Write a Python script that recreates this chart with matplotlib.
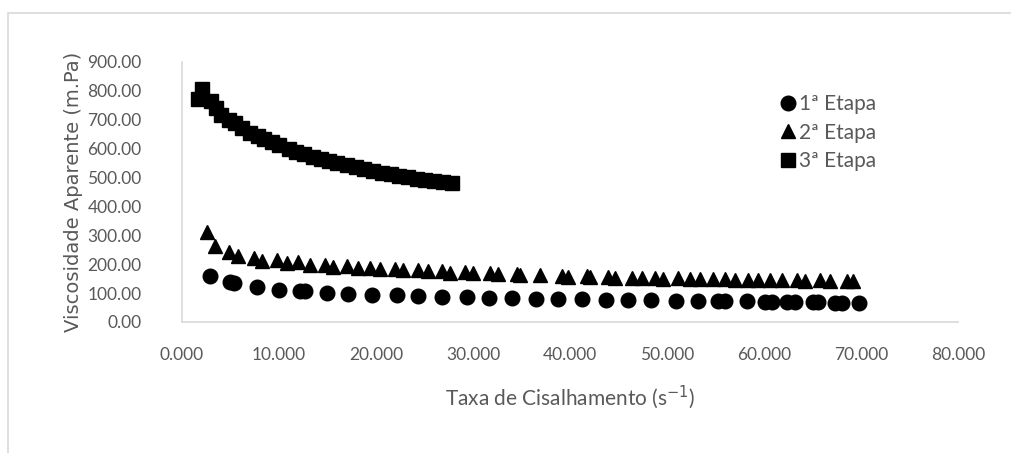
import matplotlib
matplotlib.use("Agg")
import matplotlib.pyplot as plt
from matplotlib.patches import Rectangle

# ---- data ----
x1 = [2.9, 4.9, 5.4, 7.7, 10.0, 12.2, 12.7, 14.9, 17.1, 19.6, 22.2, 24.3, 26.8, 29.4,
      31.6, 34.0, 36.5, 38.8, 41.2, 43.7, 46.0, 48.4, 50.9, 53.2, 55.3, 56.0, 58.2,
      60.1, 60.8, 62.4, 63.2, 65.1, 65.6, 67.3, 68.0, 69.8]
y1 = [158, 137, 136, 122, 112, 107, 106, 101, 97, 95, 93, 90, 88, 86,
      84, 82, 80, 79, 78, 77, 76, 75, 74, 73, 72, 72, 71,
      70, 70, 69, 69, 68, 68, 67, 67, 66]

x2 = [2.6, 3.4, 4.8, 5.8, 7.4, 8.2, 9.8, 10.8, 12.0, 13.2, 14.7, 15.6, 17.0, 18.1,
      19.4, 20.4, 22.0, 22.8, 24.3, 25.4, 26.8, 27.6, 29.2, 30.0, 31.8, 32.6, 34.5,
      34.8, 36.9, 39.2, 39.8, 41.8, 42.1, 43.9, 44.6, 46.4, 47.4, 48.8, 49.6, 51.1,
      52.4, 53.4, 54.7, 56.0, 57.0, 58.4, 59.4, 60.6, 61.9, 63.4, 64.2, 65.8, 66.8,
      68.6, 69.2]
y2 = [311, 262, 242, 228, 220, 212, 213, 205, 206, 196, 199, 191, 193, 186,
      188, 183, 185, 179, 181, 176, 176, 171, 173, 168, 168, 165, 165,
      163, 162, 160, 157, 158, 156, 156, 153, 154, 151, 152, 150, 151,
      149, 149, 148, 148, 146, 147, 145, 146, 145, 145, 143, 144, 142,
      143, 141]

x3 = [1.6, 2.1, 3.0, 3.5, 4.0, 4.8, 5.5, 6.2, 7.0, 7.8, 8.5, 9.3, 10.0, 11.0, 11.8,
      12.6, 13.5, 14.3, 15.2, 16.0, 17.0, 17.9, 18.8, 19.7, 20.6, 21.5, 22.4, 23.3,
      24.2, 25.1, 26.0, 26.9, 27.8]
y3 = [772, 806, 765, 740, 718, 700, 688, 670, 655, 645, 633, 622, 612, 598, 590,
      583, 572, 565, 557, 550, 543, 537, 530, 523, 517, 511, 506, 501,
      496, 491, 487, 484, 480]

labels = ["1ª Etapa", "2ª Etapa", "3ª Etapa"]
xticks = [0, 10, 20, 30, 40, 50, 60, 70, 80]
yticks = [0, 100, 200, 300, 400, 500, 600, 700, 800, 900]

GRAY = "#595959"
FONT = "Lato"

fig = plt.figure(figsize=(10.11, 4.53), dpi=100)
fig.patch.set_facecolor("white")

# outer chart-area border
fig.patches.append(Rectangle((8 / 1011, -0.1), 1.2, (453 - 12.5) / 453 + 0.1,
                             transform=fig.transFigure, fill=False,
                             edgecolor="#d9d9d9", linewidth=1.2, zorder=0))

ax = fig.add_axes([182 / 1011, (453 - 322) / 453, (958 - 182) / 1011, (322 - 62) / 453])

ax.plot(x1, y1, linestyle="none", marker="o", markersize=10.5, color="black", label=labels[0])
ax.plot(x2, y2, linestyle="none", marker="^", markersize=10.5, color="black", label=labels[1])
ax.plot(x3, y3, linestyle="none", marker="s", markersize=10, color="black", label=labels[2])

ax.set_xlim(0, 80)
ax.set_ylim(0, 900)
ax.set_xticks(xticks)
ax.set_yticks(yticks)
ax.set_xticklabels([f"{v:.3f}" for v in xticks], fontfamily=FONT, fontsize=12.5, color=GRAY)
ax.set_yticklabels([f"{v:.2f}" for v in yticks], fontfamily=FONT, fontsize=12.5, color=GRAY)
ax.tick_params(axis="x", length=0, pad=18)
ax.tick_params(axis="y", length=0, pad=29)

for side in ["top", "right"]:
    ax.spines[side].set_visible(False)
for side in ["left", "bottom"]:
    ax.spines[side].set_color("#d9d9d9")
    ax.spines[side].set_linewidth(1.2)

ax.set_xlabel("Taxa de Cisalhamento (s$^{-1}$)", fontfamily=FONT, fontsize=15,
              color=GRAY, labelpad=15)
ax.set_ylabel("Viscosidade Aparente (m.Pa)", fontfamily="DejaVu Sans", fontsize=14,
              color=GRAY, labelpad=3)

leg = ax.legend(loc="upper left", bbox_to_anchor=(0.771, 0.877), frameon=False,
                prop={"family": FONT, "size": 15}, handlelength=0.7,
                handletextpad=0.2, labelspacing=0.42, borderaxespad=0, borderpad=0)
for t in leg.get_texts():
    t.set_color(GRAY)

fig.savefig("out.png", dpi=100, facecolor="white")
